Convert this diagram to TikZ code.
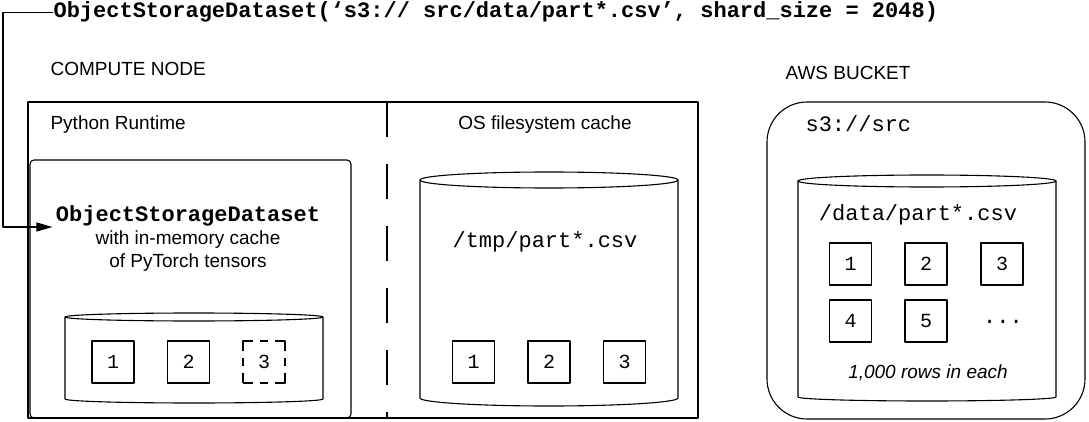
\documentclass[tikz,border=0pt]{standalone}
\usepackage{fontspec}
\setmainfont{Liberation Sans}
\setmonofont{Liberation Mono}
\usetikzlibrary{arrows.meta}
\tikzset{
	sanstext/.style={font=\fontsize{19}{23}\selectfont, inner sep=0pt},
	codetext/.style={font=\fontsize{22}{26}\selectfont\ttfamily, inner sep=0pt},
	shard/.style={draw, minimum size=42pt, inner sep=0pt, font=\fontsize{20}{24}\selectfont\ttfamily},
	lostshard/.style={shard, dash pattern=on 20pt off 7pt on 8pt off 7pt, dash phase=10pt},
	divider/.style={dash pattern=on 35pt off 27pt}
}
\begin{document}
\begin{tikzpicture}[x=1pt, y=-1pt, line width=1.1pt, line join=round, >={Triangle[length=16pt,width=9pt]}]
			\useasboundingbox (0,0) rectangle (1089,422);
			% call and headings
			\node (call) at (53,18) [codetext, anchor=base west]{\bfseries ObjectStorageDataset(‘s3:// src/data/part*.csv’, shard\_size = 2048)};
			\node (compute) at (50,76) [sanstext, anchor=base west]{COMPUTE NODE};
			\node (aws) at (785,80) [sanstext, anchor=base west]{AWS BUCKET};
			% compute node
			\draw (28,102) rectangle (698,418);
			\draw[divider] (387,102)--(387,418);
			\node (python) at (50,130) [sanstext, anchor=base west]{Python Runtime};
			\node (oscache) at (545,130) [sanstext, anchor=base]{OS filesystem cache};
			\draw[rounded corners=4pt] (30,160) rectangle (351,418);
			\node (ods) at (188,222) [codetext, anchor=base, inner xsep=3pt]{\bfseries ObjectStorageDataset};
			\node (memo) at (188,267) [sanstext, anchor=base, align=center]{with in-memory cache\\of PyTorch tensors};
			\coordinate (elbow) at (3,227);
			\draw[->] (call.west) -| (elbow) -- (elbow -| ods.west);
			% in-memory cache
			\draw (194,317) ellipse [x radius=129pt, y radius=4pt];
			\draw (65,317)--(65,399) arc[start angle=180, end angle=360, x radius=129pt, y radius=4pt]--(323,317);
			\node (m1) at (113,362) [shard]{1};
			\node (m2) at (188.5,362) [shard]{2};
			\node (m3) at (264,362) [lostshard]{3};
			% filesystem cache
			\draw (549,180) ellipse [x radius=129pt, y radius=8pt];
			\draw (420,180)--(420,398) arc[start angle=180, end angle=360, x radius=129pt, y radius=8pt]--(678,180);
			\node (tmp) at (545,247) [codetext, anchor=base]{/tmp/part*.csv};
			\node (t1) at (473.5,362) [shard]{1};
			\node (t2) at (549,362) [shard]{2};
			\node (t3) at (624.5,362) [shard]{3};
			% bucket
			\draw[rounded corners=40pt] (767,102) rectangle (1085,419);
			\node (src) at (805,132) [codetext, anchor=base west]{s3://src};
			\draw (927,181) ellipse [x radius=129pt, y radius=6pt];
			\draw (798,181)--(798,397) arc[start angle=180, end angle=360, x radius=129pt, y radius=4pt]--(1056,181);
			\node (data) at (918,220) [codetext, anchor=base]{/data/part*.csv};
			\node (b1) at (850.5,264) [shard]{1};
			\node (b2) at (926,264) [shard]{2};
			\node (b3) at (1002,264) [shard]{3};
			\node (b4) at (850.5,321) [shard]{4};
			\node (b5) at (926,321) [shard]{5};
			\node (more) at (1003,323) [codetext, anchor=base]{...};
			\node (rows) at (928,378) [sanstext, anchor=base]{\itshape 1,000 rows in each};
\end{tikzpicture}
\end{document}
